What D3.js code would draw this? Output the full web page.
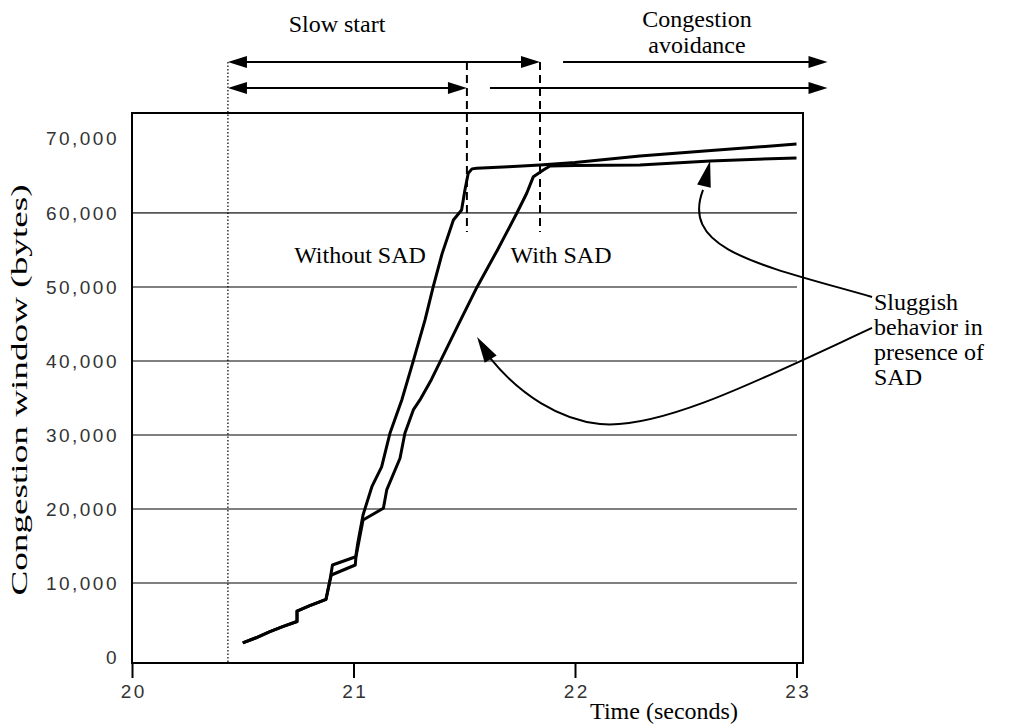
<!DOCTYPE html>
<html><head><meta charset="utf-8">
<script src="https://cdn.jsdelivr.net/npm/d3@7"></script>
<style>body{margin:0;background:#fff}svg{display:block}</style>
</head><body>
<svg id="c" width="1021" height="728"></svg>
<script>
// ---- data ----
const xTicks = [20, 21, 22, 23];
const yTicks = [0, 10000, 20000, 30000, 40000, 50000, 60000, 70000];
const gridValues = [10000, 20000, 30000, 40000, 50000, 60000];

const sharedTime  = [20.50, 20.56, 20.62, 20.68, 20.745, 20.745, 20.80, 20.876, 20.894];
const sharedBytes = [1900, 2600, 3400, 4100, 4800, 6200, 6900, 7800, 10400];

const withoutTime  = [20.905, 21.01, 21.02, 21.043, 21.083, 21.127, 21.165, 21.218, 21.27, 21.323, 21.36, 21.40, 21.451, 21.488, 21.503, 21.518, 21.535, 21.556, 21.70, 21.842, 22.0, 22.293, 22.6, 23.0];
const withoutBytes = [12430, 13550, 15500, 19190, 23010, 25700, 30270, 34730, 40000, 45540, 50040, 54500, 59050, 60400, 63100, 65360, 65950, 66040, 66250, 66490, 66800, 67700, 68400, 69300];

const withTime  = [20.90, 21.008, 21.011, 21.043, 21.135, 21.15, 21.21, 21.232, 21.27, 21.30, 21.352, 21.393, 21.475, 21.558, 21.65, 21.737, 21.782, 21.812, 21.857, 21.887, 22.0, 22.293, 22.61, 23.0];
const withBytes = [11080, 12430, 13510, 18510, 20100, 22570, 26850, 30230, 33380, 34730, 37500, 40000, 45000, 50000, 55000, 59950, 62660, 64900, 65810, 66350, 66420, 66490, 67030, 67430];

// phase boundaries (seconds)
const phaseStart = 20.433;
const phaseEndWithout = 21.512;
const phaseEndWith = 21.842;
const avoidStartRow1 = 21.946;
const avoidStartRow2 = 21.616;
const phaseArrowEnd = 23.14;

// annotation arrows (time, bytes) cubic bezier points
const annot1 = [[23.341, 48649], [22.835, 52973], [22.474, 55000], [22.578, 63108]];
const annot1Tip = [22.610, 67027];
const annot2 = [[23.341, 44459], [22.835, 37432], [22.384, 30676], [22.113, 31486],
                [21.932, 32027], [21.752, 35405], [21.616, 40405]];
const annot2Tip = [21.558, 43243];

// ---- drawing ----
const svg = d3.select("#c");
const x = d3.scaleLinear().domain([20, 23]).range([132, 796.5]);
const y = d3.scaleLinear().domain([-810, 73500]).range([663, 113]);
const frameRight = 803, frameTop = 113, frameBottom = 663;
const sans = "Liberation Sans, Arial, sans-serif";
const serif = "Liberation Serif, Times New Roman, serif";

// gridlines
svg.append("g").selectAll("line").data(gridValues).join("line")
  .attr("x1", x(20)).attr("x2", 797)
  .attr("y1", d => y(d)).attr("y2", d => y(d))
  .attr("stroke", "#555").attr("stroke-width", 1.6);

// frame
svg.append("rect").attr("x", x(20)).attr("y", frameTop)
  .attr("width", frameRight - x(20)).attr("height", frameBottom - frameTop)
  .attr("fill", "none").attr("stroke", "#000").attr("stroke-width", 2);

// y axis labels
const yAxis = d3.axisLeft(y).tickValues(yTicks).tickSize(0).tickPadding(13)
  .tickFormat(d3.format(","));
const gy = svg.append("g").attr("transform", `translate(${x(20)},0)`).call(yAxis);
gy.select(".domain").remove();
gy.selectAll("text").attr("font-family", sans).attr("font-size", 19)
  .attr("letter-spacing", 2.5).attr("fill", "#333");

// x axis
const xAxis = d3.axisBottom(x).tickValues(xTicks).tickSize(15).tickPadding(7)
  .tickFormat(d3.format("d"));
const gx = svg.append("g").attr("transform", `translate(0,${frameBottom})`).call(xAxis);
gx.select(".domain").remove();
gx.selectAll("line").attr("stroke", "#000").attr("stroke-width", 2);
gx.selectAll("text").attr("font-family", sans).attr("font-size", 19)
  .attr("letter-spacing", 2.5).attr("dx", 1.2).attr("fill", "#333");

// axis titles
svg.append("text").attr("transform", `translate(27,390) rotate(-90) scale(1.55,1)`)
  .attr("text-anchor", "middle").attr("font-family", serif)
  .attr("font-size", 24).text("Congestion window (bytes)");
svg.append("text").attr("x", 664).attr("y", 719).attr("text-anchor", "middle")
  .attr("font-family", serif).attr("font-size", 24).text("Time (seconds)");

// curves
const line = d3.line().x(d => x(d[0])).y(d => y(d[1]));
const shared = sharedTime.map((t, i) => [t, sharedBytes[i]]);
const without = shared.concat(withoutTime.map((t, i) => [t, withoutBytes[i]]));
const withS = shared.concat(withTime.map((t, i) => [t, withBytes[i]]));
[without, withS].forEach(s => {
  svg.append("path").attr("d", line(s)).attr("fill", "none")
    .attr("stroke", "#000").attr("stroke-width", 3).attr("stroke-linejoin", "round");
});

// phase markers
const rowY1 = 62, rowY2 = 88;
svg.append("line").attr("x1", x(phaseStart)).attr("x2", x(phaseStart))
  .attr("y1", rowY1).attr("y2", frameBottom)
  .attr("stroke", "#000").attr("stroke-width", 1.2).attr("stroke-dasharray", "1.5,2");
[phaseEndWithout, phaseEndWith].forEach(t => {
  svg.append("line").attr("x1", x(t)).attr("x2", x(t)).attr("y1", rowY1).attr("y2", 232)
    .attr("stroke", "#000").attr("stroke-width", 2).attr("stroke-dasharray", "8,5");
});

function arrowHead(tipX, tipY, dir) {
  const L = 19, H = 6;
  svg.append("path")
    .attr("d", `M${tipX},${tipY} L${tipX - dir * L},${tipY - H} L${tipX - dir * L},${tipY + H} Z`)
    .attr("fill", "#000");
}
function hArrow(t1, t2, yy, leftHead, rightHead) {
  const a = x(t1), b = x(t2);
  svg.append("line").attr("x1", a + (leftHead ? 10 : 0)).attr("x2", b - (rightHead ? 10 : 0))
    .attr("y1", yy).attr("y2", yy).attr("stroke", "#000").attr("stroke-width", 2.2);
  if (leftHead) arrowHead(a, yy, -1);
  if (rightHead) arrowHead(b, yy, 1);
}
hArrow(phaseStart, phaseEndWith, rowY1, true, true);
hArrow(avoidStartRow1, phaseArrowEnd, rowY1, false, true);
hArrow(phaseStart, phaseEndWithout, rowY2, true, true);
hArrow(avoidStartRow2, phaseArrowEnd, rowY2, false, true);

function label(tx, ty, s, anchor) {
  svg.append("text").attr("x", tx).attr("y", ty).attr("text-anchor", anchor || "middle")
    .attr("font-family", serif).attr("font-size", 24).attr("fill", "#000").text(s);
}
label(337, 32, "Slow start");
label(697, 27, "Congestion");
label(697, 53, "avoidance");
label(360, 263, "Without SAD");
label(561, 263, "With SAD");
label(874, 310, "Sluggish", "start");
label(874, 335, "behavior in", "start");
label(874, 360, "presence of", "start");
label(874, 385, "SAD", "start");

// annotation arrows
function bez(pts) {
  const p = pts.map(d => [x(d[0]), y(d[1])]);
  let s = `M${p[0][0]},${p[0][1]}`;
  for (let i = 1; i + 2 < p.length; i += 3) {
    s += ` C${p[i][0]},${p[i][1]} ${p[i+1][0]},${p[i+1][1]} ${p[i+2][0]},${p[i+2][1]}`;
  }
  return s;
}
function tipHead(base, tip) {
  const bx = x(base[0]), by = y(base[1]), tx = x(tip[0]), ty = y(tip[1]);
  const dx = tx - bx, dy = ty - by, len = Math.hypot(dx, dy);
  const ux = dx / len, uy = dy / len, L = 26, H = 7;
  const cx = tx - ux * L, cy = ty - uy * L;
  svg.append("path").attr("d",
    `M${tx},${ty} L${cx - uy * H},${cy + ux * H} L${cx + uy * H},${cy - ux * H} Z`).attr("fill", "#000");
}
svg.append("path").attr("d", bez(annot1)).attr("fill", "none").attr("stroke", "#000").attr("stroke-width", 2);
tipHead(annot1[annot1.length - 1], annot1Tip);
svg.append("path").attr("d", bez(annot2)).attr("fill", "none").attr("stroke", "#000").attr("stroke-width", 2);
tipHead(annot2[annot2.length - 1], annot2Tip);
</script>
</body></html>
